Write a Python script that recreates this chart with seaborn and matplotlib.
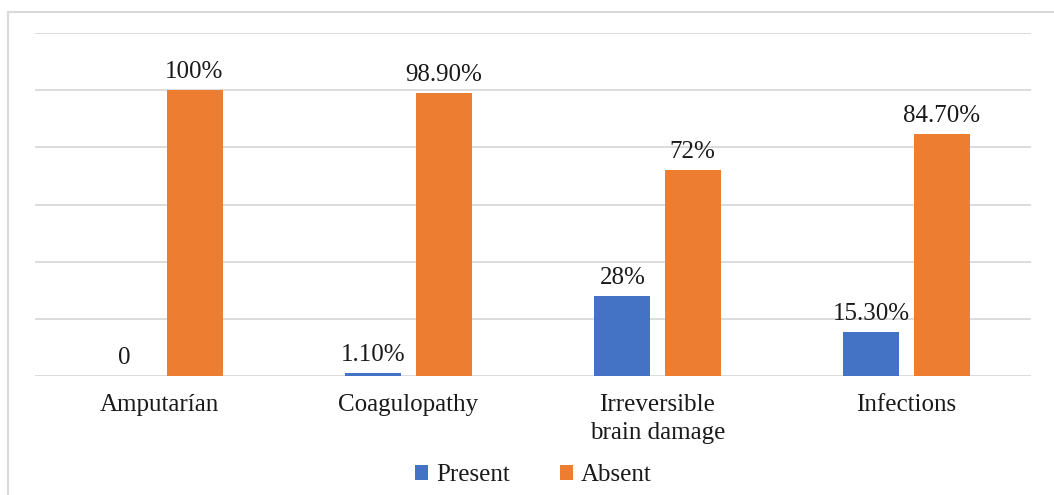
import pandas as pd
import seaborn as sns
from matplotlib import pyplot as plt
from matplotlib.lines import Line2D

sns.set_style("white")
plt.rcParams["font.family"] = ["Liberation Serif", "DejaVu Serif"]

categories = ["Amputarían", "Coagulopathy", "Irreversible\nbrain damage", "Infections"]
present = [0, 1.1, 28, 15.3]
absent = [100, 98.9, 72, 84.7]
present_labels = ["0", "1.10%", "28%", "15.30%"]
absent_labels = ["100%", "98.90%", "72%", "84.70%"]

df = pd.DataFrame(
    {
        "category": categories * 2,
        "status": ["Present"] * 4 + ["Absent"] * 4,
        "value": present + absent,
    }
)

fig = plt.figure(figsize=(10.54, 4.95), dpi=100)
ax = fig.add_axes([35 / 1054, 119 / 495, 996 / 1054, 343 / 495])

sns.barplot(
    data=df,
    x="category",
    y="value",
    hue="status",
    palette={"Present": "#4472C4", "Absent": "#ED7D31"},
    saturation=1,
    width=0.5625,
    gap=0.2,
    linewidth=0,
    edgecolor="none",
    ax=ax,
)

txt = "#1a1a1a"
fs = 18

# value labels above bars
for container, labels in zip(ax.containers, [present_labels, absent_labels]):
    for bar, lab in zip(container, labels):
        ax.annotate(
            lab,
            (bar.get_x() + bar.get_width() / 2, bar.get_height()),
            xytext=(0, 5),
            textcoords="offset points",
            ha="center",
            va="bottom",
            fontsize=fs,
            color=txt,
        )

ax.set_ylim(0, 120)
ax.set_yticks(range(0, 121, 20))
ax.set_yticklabels([])
ax.set_xlim(-0.5, 3.5)
ax.yaxis.grid(True, color="#D9D9D9", linewidth=1.3)
ax.set_axisbelow(True)
sns.despine(ax=ax, left=True, bottom=True)
ax.tick_params(axis="x", length=0, pad=13, labelsize=fs, colors=txt)
ax.tick_params(axis="y", length=0)
for t in ax.get_xticklabels():
    t.set_linespacing(1.35)
ax.set_xlabel("")
ax.set_ylabel("")

sns.move_legend(
    ax,
    "center",
    bbox_to_anchor=(0.5, -0.29),
    ncol=2,
    frameon=False,
    title=None,
    fontsize=fs,
    handlelength=0.55,
    handleheight=0.55,
    handletextpad=0.3,
    columnspacing=2.0,
    labelcolor=txt,
)

# outer chart frame
fc = "#D9D9D9"
fig.add_artist(Line2D([8 / 1054, 1], [1 - 12 / 495] * 2, color=fc, lw=1.5))
fig.add_artist(Line2D([8 / 1054] * 2, [0, 1 - 12 / 495], color=fc, lw=1.5))

fig.savefig("out.png", dpi=100)
